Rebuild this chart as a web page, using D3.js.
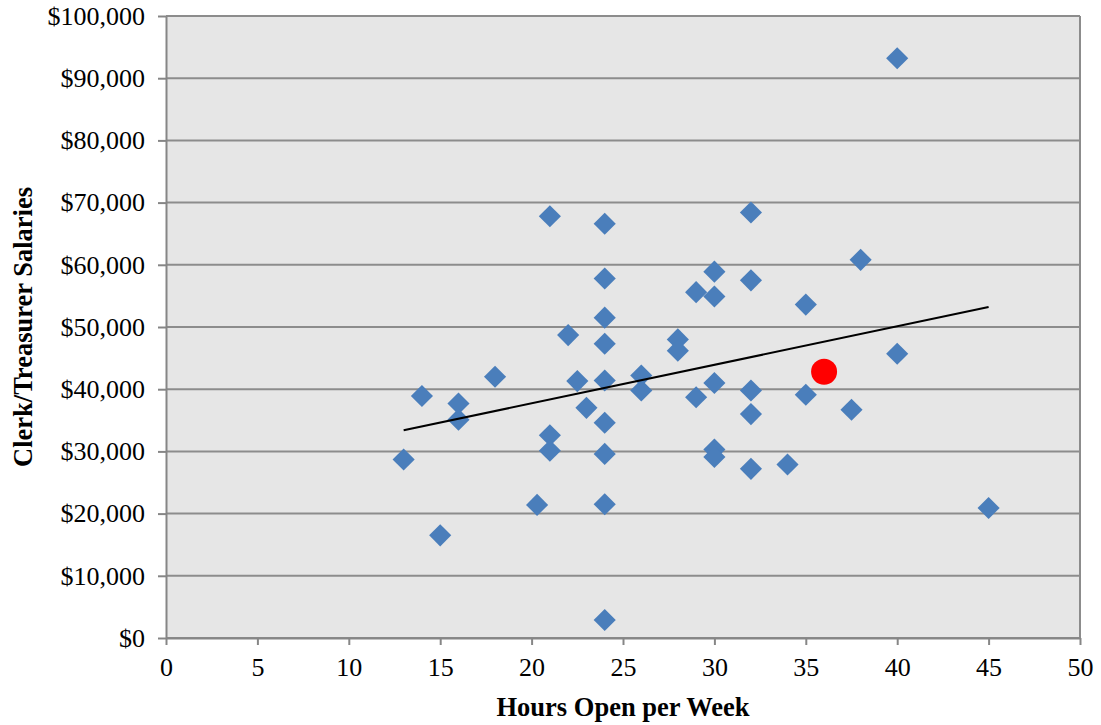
<!DOCTYPE html>
<html>
<head>
<meta charset="utf-8">
<script src="https://cdn.jsdelivr.net/npm/d3@7"></script>
<style>
  body { margin: 0; background: #fff; }
  .axis text { font-family: "Liberation Serif", "Times New Roman", serif; font-size: 26px; fill: #000; }
  .axis path, .axis line { stroke: #868686; stroke-width: 2px; }
  .grid line { stroke: #8c8c8c; stroke-width: 2px; }
  .title { font-family: "Liberation Serif", "Times New Roman", serif; font-size: 26.5px; font-weight: bold; }
</style>
</head>
<body>
<svg id="chart" width="1101" height="725"></svg>
<script>
// hours open per week
const hours = [13, 14, 15, 16, 16, 18, 20.3, 21, 21, 21, 22, 22.5, 23,
  24, 24, 24, 24, 24, 24, 24, 24, 24, 26, 26, 28, 28, 29, 29,
  30, 30, 30, 30, 30, 32, 32, 32, 32, 32, 34, 35, 35, 37.5, 38, 40, 40, 45];
// clerk / treasurer salaries
const salaries = [28700, 38900, 16500, 37700, 35100, 42000, 21400, 67800, 32600, 30100, 48700, 41300, 37000,
  66600, 57800, 51500, 47300, 41400, 34600, 29600, 21500, 2900, 42200, 39800, 48000, 46200, 55600, 38700,
  58900, 54900, 41000, 30300, 29100, 68400, 57500, 39800, 36000, 27200, 27900, 53600, 39100, 36700, 60800, 93200, 45700, 20900];
// highlighted town
const highlight = [{x: 36, y: 42800}];
// linear trend line endpoints
const trendX = [13, 45];
const trendY = [33400, 53200];

const xTicks = [0, 5, 10, 15, 20, 25, 30, 35, 40, 45, 50];
const yTicks = [0, 10000, 20000, 30000, 40000, 50000, 60000, 70000, 80000, 90000, 100000];

const margin = {top: 16, right: 21, bottom: 87, left: 166};
const width = 1101 - margin.left - margin.right;
const height = 725 - margin.top - margin.bottom;

const svg = d3.select("#chart");
const g = svg.append("g").attr("transform", `translate(${margin.left},${margin.top})`);

const x = d3.scaleLinear().domain([0, 50]).range([0, width]);
const y = d3.scaleLinear().domain([0, 100000]).range([height, 0]);

g.append("rect")
  .attr("width", width)
  .attr("height", height)
  .attr("fill", "#e6e6e6");

// horizontal gridlines
g.append("g")
  .attr("class", "grid")
  .selectAll("line")
  .data(yTicks)
  .join("line")
    .attr("x1", 0)
    .attr("x2", width)
    .attr("y1", d => y(d))
    .attr("y2", d => y(d));

// right border
g.append("line")
  .attr("x1", width).attr("x2", width)
  .attr("y1", 0).attr("y2", height)
  .attr("stroke", "#8c8c8c")
  .attr("stroke-width", 2);

g.append("g")
  .attr("class", "axis")
  .attr("transform", `translate(0,${height})`)
  .call(d3.axisBottom(x).tickValues(xTicks).tickSize(7).tickPadding(10).tickSizeOuter(0))
  .call(a => a.selectAll("text").attr("dy", "0.8em"));

g.append("g")
  .attr("class", "axis")
  .call(d3.axisLeft(y).tickValues(yTicks).tickSize(8).tickPadding(13).tickSizeOuter(0)
    .tickFormat(d => "$" + d3.format(",")(d)));

const pts = hours.map((h, i) => ({x: h, y: salaries[i]}));

g.append("g")
  .selectAll("path")
  .data(pts)
  .join("path")
    .attr("d", d3.symbol(d3.symbolSquare, 245))
    .attr("transform", d => `translate(${x(d.x)},${y(d.y)}) rotate(45)`)
    .attr("fill", "#4a7ebb");

g.append("line")
  .attr("x1", x(trendX[0])).attr("y1", y(trendY[0]))
  .attr("x2", x(trendX[1])).attr("y2", y(trendY[1]))
  .attr("stroke", "#000")
  .attr("stroke-width", 2);

g.selectAll("circle.hl")
  .data(highlight)
  .join("circle")
    .attr("class", "hl")
    .attr("cx", d => x(d.x))
    .attr("cy", d => y(d.y))
    .attr("r", 13)
    .attr("fill", "#ff0000");

svg.append("text")
  .attr("class", "title")
  .attr("x", margin.left + width / 2)
  .attr("y", 716)
  .attr("text-anchor", "middle")
  .text("Hours Open per Week");

svg.append("text")
  .attr("class", "title")
  .attr("transform", `translate(32,${margin.top + height / 2}) rotate(-90)`)
  .attr("text-anchor", "middle")
  .text("Clerk/Treasurer Salaries");
</script>
</body>
</html>
